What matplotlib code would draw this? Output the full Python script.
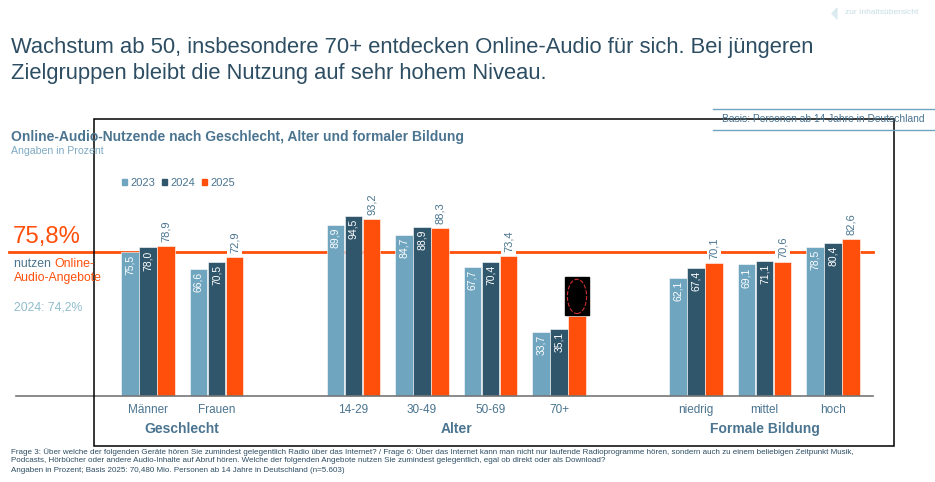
import matplotlib
matplotlib.use('Agg')
import matplotlib.pyplot as plt
import matplotlib.patches as mpatches
import numpy as np

plt.rcParams['font.family'] = ['Liberation Sans', 'DejaVu Sans']

# Daten
kategorien = ['Männer', 'Frauen', '14-29', '30-49', '50-69', '70+', 'niedrig', 'mittel', 'hoch']
positionen = [0, 1, 3, 4, 5, 6, 8, 9, 10]
gruppen = ['Geschlecht', 'Alter', 'Formale Bildung']
gruppen_idx = [[0, 1], [2, 3, 4, 5], [6, 7, 8]]
jahre = ['2023', '2024', '2025']
werte_2023 = [75.5, 66.6, 89.9, 84.7, 67.7, 33.7, 62.1, 69.1, 78.5]
werte_2024 = [78.0, 70.5, 94.5, 88.9, 70.4, 35.1, 67.4, 71.1, 80.4]
werte_2025 = [78.9, 72.9, 93.2, 88.3, 73.4, 42.0, 70.1, 70.6, 82.6]
gesamt_2025 = 75.8
gesamt_2024 = 74.2
verdeckt = [False, False, False, False, False, True, False, False, False]

farben = ['#6fa5bf', '#30566b', '#ff4f0a']
dunkel = '#2d4d63'
mittelblau = '#4a7490'
hellblau = '#7eaac4'

W, H = 935, 482
fig = plt.figure(figsize=(W / 100, H / 100), dpi=100)


def fx(px):
    return px / W


def fy(py):
    return 1 - py / H


# Achse über die ganze Abbildung; 0 = Grundlinie bei y=396px
ax = fig.add_axes([0, 0, 1, 1])
einheit_x = 68.5
x0 = 148
einheit_y = 1.904
y0 = 396
ax.set_xlim(-x0 / einheit_x, (W - x0) / einheit_x)
ax.set_ylim(-(H - y0) / einheit_y, y0 / einheit_y)
ax.axis('off')

# Referenzlinie und Grundlinie
ax.axhline(gesamt_2025, xmin=fx(9), xmax=fx(873), color=farben[2], lw=2, zorder=1)
ax.axhline(0, xmin=fx(16), xmax=fx(873), color='#777777', lw=1.2, zorder=3)

pos = np.array(positionen, dtype=float)
breite = 0.25
abstand = 0.263
for i, (werte, farbe) in enumerate(zip([werte_2023, werte_2024, werte_2025], farben)):
    xs = pos + (i - 1) * abstand
    ax.bar(xs, werte, width=breite, color=farbe, edgecolor='white', linewidth=0.4, zorder=2)
    for x, v, hide in zip(xs, werte, verdeckt):
        txt = f'{v:.1f}'.replace('.', ',')
        if i < 2:
            ax.text(x, v - 1.6, txt, rotation=90, ha='center', va='top',
                    color='white', fontsize=7.5, zorder=4)
        elif hide:
            # geschwärzter Wert wie in der Vorlage
            ax.add_patch(mpatches.Rectangle((x - 0.18, v + 0.3), 0.36, 20,
                                            color='black', zorder=5))
            ax.add_patch(mpatches.Ellipse((x, v + 10.3), 0.28, 18, fill=False,
                                          ec='#d03030', ls='--', lw=0.8, zorder=6))
        else:
            ax.text(x, v + 2.0, txt, rotation=90, ha='center', va='bottom',
                    color=mittelblau, fontsize=8, zorder=4,
                    bbox=dict(facecolor='white', edgecolor='none', pad=1.5))

# Kategorie- und Gruppenbeschriftungen
for p, k in zip(positionen, kategorien):
    ax.text(p, -7.4, k, ha='center', va='center', color=mittelblau, fontsize=8.5)
for g, idx in zip(gruppen, gruppen_idx):
    mitte = np.mean([positionen[j] for j in idx])
    ax.text(mitte, -17.5, g, ha='center', va='center', color=mittelblau,
            fontsize=10, fontweight='bold')

# Legende
handles = [mpatches.Patch(color=c, label=j) for c, j in zip(farben, jahre)]
leg = ax.legend(handles=handles, ncol=3, frameon=False, loc='center left',
                bbox_to_anchor=(fx(112), fy(183)), bbox_transform=fig.transFigure,
                handlelength=0.45, handleheight=0.45, handletextpad=0.3,
                columnspacing=0.6, fontsize=8)
for t in leg.get_texts():
    t.set_color(mittelblau)

# Rahmen
fig.patches.append(mpatches.Rectangle((fx(94), fy(446)), fx(894) - fx(94), fy(119) - fy(446),
                                      fill=False, ec='black', lw=1.1,
                                      transform=fig.transFigure, zorder=0))

# Titel
fig.text(fx(11), fy(48), 'Wachstum ab 50, insbesondere 70+ entdecken Online-Audio für sich. Bei jüngeren',
         fontsize=15.8, color=dunkel, va='center')
fig.text(fx(11), fy(73), 'Zielgruppen bleibt die Nutzung auf sehr hohem Niveau.',
         fontsize=15.8, color=dunkel, va='center')

# Link oben rechts
fig.text(fx(845), fy(13), 'zur Inhaltsübersicht', fontsize=6, color='#c5dde3', va='center')
fig.patches.append(mpatches.Polygon([[fx(837), fy(8)], [fx(837), fy(19)], [fx(832), fy(13.5)]],
                                    closed=True, color='#dcebef', transform=fig.transFigure))

# Basis-Box
for py in (109, 130):
    fig.add_artist(plt.Line2D([fx(713), fx(935)], [fy(py), fy(py)], color='#6fa5bf', lw=1))
fig.text(fx(722), fy(119.5), 'Basis: Personen ab 14 Jahre in Deutschland', fontsize=7.4,
         color=mittelblau, va='center')

# Untertitel
fig.text(fx(11), fy(137), 'Online-Audio-Nutzende nach Geschlecht, Alter und formaler Bildung',
         fontsize=10, fontweight='bold', color=mittelblau, va='center')
fig.text(fx(11), fy(151), 'Angaben in Prozent', fontsize=7.6, color=hellblau, va='center')

# Gesamtwert links
fig.text(fx(13), fy(237), '75,8%', fontsize=17.2, color=farben[2], va='center')
fig.text(fx(14), fy(264), 'nutzen ', fontsize=8.8, color=mittelblau, va='center')
fig.text(fx(54), fy(264), 'Online-', fontsize=8.8, color=farben[2], va='center')
fig.text(fx(14), fy(278), 'Audio-Angebote', fontsize=8.8, color=farben[2], va='center')
fig.text(fx(14), fy(308), '2024: 74,2%', fontsize=8.8, color='#8fbccc', va='center')

# Fußnote
fuss = [
    'Frage 3: Über welche der folgenden Geräte hören Sie zumindest gelegentlich Radio über das Internet? / '
    'Frage 6: Über das Internet kann man nicht nur laufende Radioprogramme hören, sondern auch zu einem beliebigen Zeitpunkt Musik,',
    'Podcasts, Hörbücher oder andere Audio-Inhalte auf Abruf hören. Welche der folgenden Angebote nutzen Sie '
    'zumindest gelegentlich, egal ob direkt oder als Download?',
    'Angaben in Prozent; Basis 2025: 70,480 Mio. Personen ab 14 Jahre in Deutschland (n=5.603)',
]
for py, zeile in zip((452, 461, 471), fuss):
    fig.text(fx(11), fy(py), zeile, fontsize=5.75, color=dunkel, va='center')

fig.savefig('out.png', dpi=100)
